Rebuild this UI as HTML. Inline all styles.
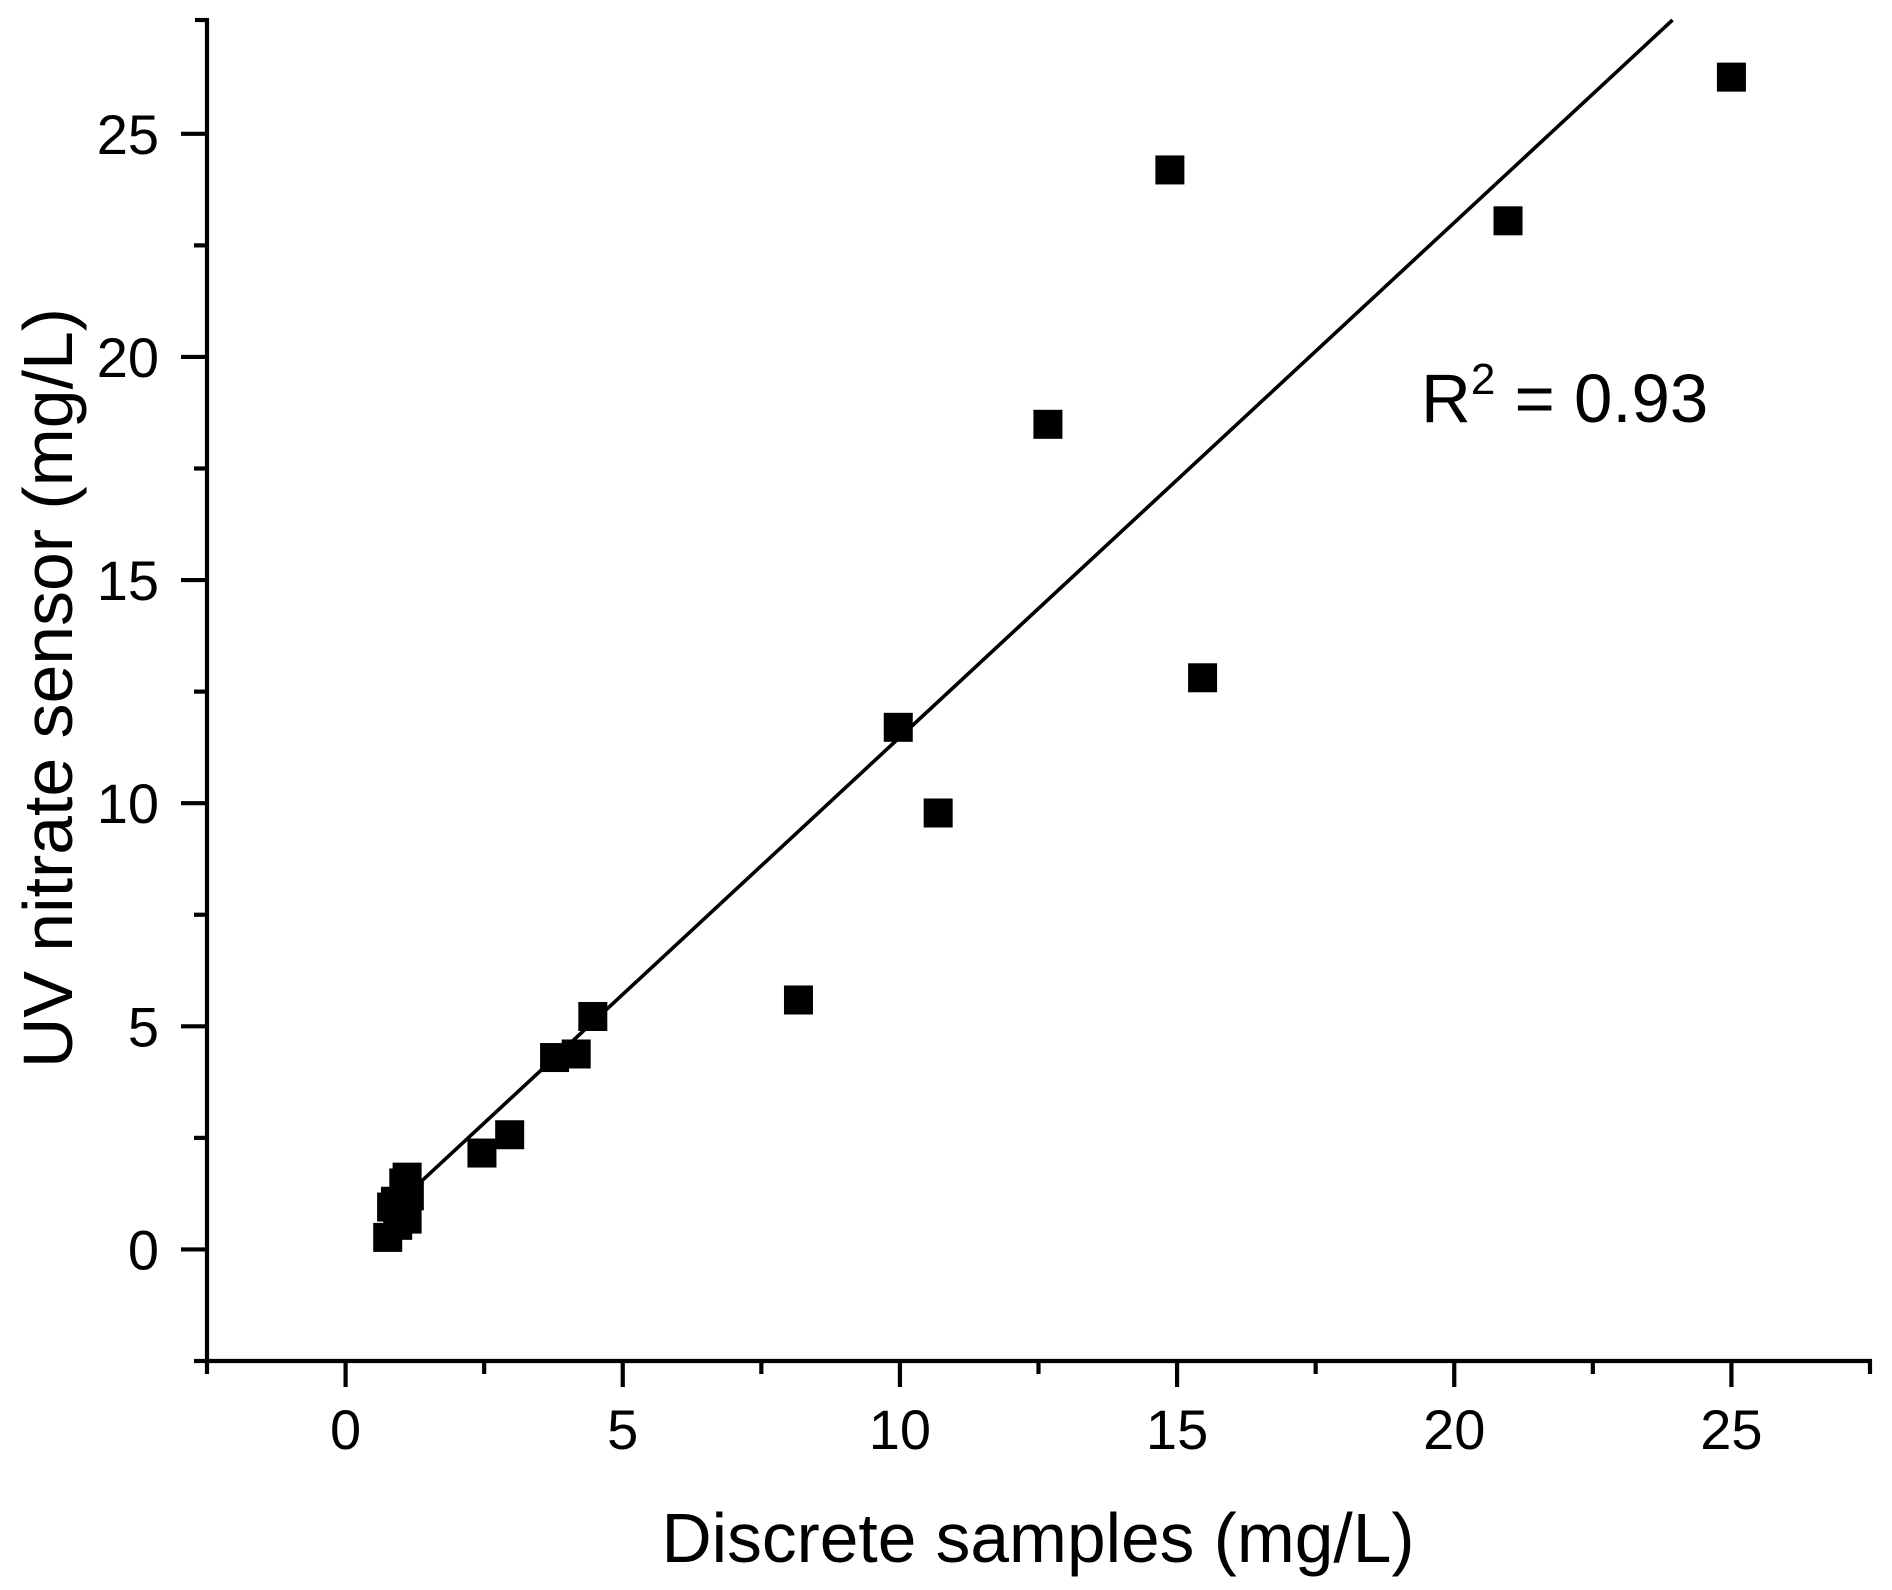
<!DOCTYPE html>
<html><head><meta charset="utf-8"><style>
html,body{margin:0;padding:0;background:#fff;}
svg{display:block;font-family:"Liberation Sans",Arial,sans-serif;}
</style></head><body>
<svg id="chart" width="1892" height="1590" viewBox="0 0 1892 1590" xmlns="http://www.w3.org/2000/svg">
<rect width="1892" height="1590" fill="#fff"/>
<g id="plot"></g>
</svg>
<script>
const xTicks = [0, 5, 10, 15, 20, 25];
const yTicks = [0, 5, 10, 15, 20, 25];
const xMinor = [-2.5, 2.5, 7.5, 12.5, 17.5, 22.5, 27.5];
const yMinor = [-2.5, 2.5, 7.5, 12.5, 17.5, 22.5];
const discrete = [25, 20.97, 14.87, 12.67, 15.46, 9.97, 10.69, 8.17, 4.46, 4.16, 3.77, 2.96, 2.46, 0.76, 1.11, 1.05, 0.9, 0.83, 1.15, 0.94, 1.11];
const sensor = [26.27, 23.05, 24.19, 18.49, 12.81, 11.70, 9.78, 5.59, 5.22, 4.38, 4.30, 2.57, 2.16, 0.27, 0.68, 1.49, 1.08, 0.95, 1.2, 0.54, 1.62];
const fitSlope = [1.153];
const fitIntercept = [-0.05];
const fitRange = [1.0, 27.55];

const X0 = 207, X1 = 1870, Y0 = 1361, Y1 = 20;
const xMin = -2.5, xMax = 27.5, yMin = -2.5, yMax = 27.55;
const sx = v => X0 + (v - xMin) / (xMax - xMin) * (X1 - X0);
const sy = v => Y0 - (v - yMin) / (yMax - yMin) * (Y0 - Y1);
const NS = "http://www.w3.org/2000/svg";
const g = document.getElementById('plot');
function mk(tag, attrs) {
  const e = document.createElementNS(NS, tag);
  for (const k in attrs) e.setAttribute(k, attrs[k]);
  g.appendChild(e);
  return e;
}

const fx0 = fitRange[0];
let fx1 = (fitRange[1] - fitIntercept[0]) / fitSlope[0];
const fit = mk('line', {x1: sx(fx0), y1: sy(fitSlope[0]*fx0 + fitIntercept[0]), x2: sx(fx1), y2: sy(fitSlope[0]*fx1 + fitIntercept[0]), stroke: '#000', 'stroke-width': 3.6});



for (let i = 0; i < discrete.length; i++) {
  const r = mk('rect', {x: sx(discrete[i]) - 14.5, y: sy(sensor[i]) - 14.5, width: 29, height: 29, fill: '#000'});
  
  
}

const xa = mk('line', {x1: X0 - 2, y1: Y0, x2: X1 + 2, y2: Y0, stroke: '#000', 'stroke-width': 4.2});


const ya = mk('line', {x1: X0, y1: Y1 - 2, x2: X0, y2: Y0 + 2, stroke: '#000', 'stroke-width': 4.2});


const yTop = mk('line', {x1: X0 - 12, y1: Y1, x2: X0, y2: Y1, stroke: '#000', 'stroke-width': 4.2});



xTicks.forEach(v => {
  const t = mk('line', {x1: sx(v), y1: Y0, x2: sx(v), y2: Y0 + 26, stroke: '#000', 'stroke-width': 4.2});
  
  
  const l = mk('text', {x: sx(v), y: Y0 + 88, 'font-size': 56, 'text-anchor': 'middle'});
  l.textContent = v;
  
  
});
xMinor.forEach(v => {
  const t = mk('line', {x1: sx(v), y1: Y0, x2: sx(v), y2: Y0 + 13, stroke: '#000', 'stroke-width': 4.2});
  
  
});
yTicks.forEach(v => {
  const t = mk('line', {x1: X0 - 26, y1: sy(v), x2: X0, y2: sy(v), stroke: '#000', 'stroke-width': 4.2});
  
  
  const l = mk('text', {x: 159, y: sy(v) + 20, 'font-size': 56, 'text-anchor': 'end'});
  l.textContent = v;
  
  
});
yMinor.forEach(v => {
  const t = mk('line', {x1: X0 - 13, y1: sy(v), x2: X0, y2: sy(v), stroke: '#000', 'stroke-width': 4.2});
  
  
});

const xt = mk('text', {x: 1038, y: 1562, 'font-size': 70, 'text-anchor': 'middle', textLength: 753, lengthAdjust: 'spacingAndGlyphs'});
xt.textContent = 'Discrete samples (mg/L)';


const yt = mk('text', {x: 0, y: 0, 'font-size': 70, 'text-anchor': 'middle', textLength: 760, lengthAdjust: 'spacingAndGlyphs', transform: 'translate(72,688) rotate(-90)'});
yt.textContent = 'UV nitrate sensor (mg/L)';



const rt = mk('text', {x: 1421, y: 422, 'font-size': 69});


rt.innerHTML = 'R<tspan dy="-28" font-size="44">2</tspan><tspan dy="28"> = 0.93</tspan>';
</script>
</body></html>
